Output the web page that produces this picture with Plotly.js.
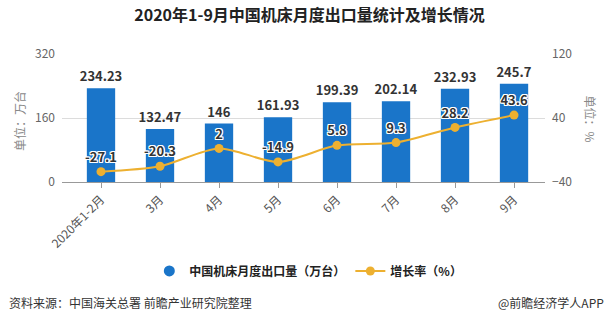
<!DOCTYPE html>
<html>
<head>
<meta charset="utf-8">
<script src="https://cdn.plot.ly/plotly-3.0.1.min.js"></script>
<style>html,body{margin:0;padding:0;background:#fff;}#chart{width:613px;height:325px;}</style>
</head>
<body>
<div id="chart"></div>
<script>
const categories = ["2020年1-2月", "3月", "4月", "5月", "6月", "7月", "8月", "9月"];
const exportVolume = [234.23, 132.47, 146, 161.93, 199.39, 202.14, 232.93, 245.7];
const growthRate = [-27.1, -20.3, 2, -14.9, 5.8, 9.3, 28.2, 43.6];
const barName = "中国机床月度出口量（万台）";
const lineName = "增长率（%）";

const FONT = '"Noto Sans CJK SC", "Noto Sans", sans-serif';
const barColor = "#1A75C9";
const lineColor = "#EDB030";
const outline = "1px 1px 0 #fff, -1px -1px 0 #fff, 1px -1px 0 #fff, -1px 1px 0 #fff, 0 1px 0 #fff, 0 -1px 0 #fff, 1px 0 0 #fff, -1px 0 0 #fff";

const traces = [
  {
    type: "bar", x: categories, y: exportVolume, name: barName,
    marker: {color: barColor}, width: 0.48,
    text: exportVolume.map(String), textposition: "outside", cliponaxis: false, constraintext: "none",
    textfont: {family: FONT, size: 13, color: "#333", weight: 700},
    showlegend: false, hoverinfo: "skip"
  },
  {
    type: "scatter", mode: "markers", x: [null], y: [null], name: barName,
    marker: {color: barColor, size: 11, symbol: "circle"}, showlegend: true
  },
  {
    type: "scatter", mode: "lines+markers+text", x: categories, y: growthRate, yaxis: "y2",
    name: lineName, line: {color: lineColor, width: 2, shape: "spline", smoothing: 0.8},
    marker: {color: lineColor, size: 9},
    text: growthRate.map(String), textposition: "top center", cliponaxis: false,
    textfont: {family: FONT, size: 13, color: "#333", weight: 700, shadow: outline}
  }
];

const layout = {
  width: 613, height: 325,
  margin: {l: 62, r: 68, t: 54, b: 143},
  paper_bgcolor: "#fff", plot_bgcolor: "#fff",
  font: {family: FONT, color: "#555", size: 12},
  title: {text: "2020年1-9月中国机床月度出口量统计及增长情况", x: 0.505, xanchor: "center", y: 0.97, yanchor: "top",
          font: {family: FONT, size: 16, color: "#222", weight: 700}},
  xaxis: {
    type: "category", range: [-0.661, 7.525], tickangle: -45,
    showline: true, linecolor: "#999", linewidth: 1,
    ticks: "outside", ticklen: 5, tickcolor: "#999",
    showgrid: false, tickfont: {size: 12, color: "#555"}, fixedrange: true
  },
  yaxis: {
    range: [0, 320], tickvals: [0, 160, 320], showgrid: true, gridcolor: "#dcdcdc",
    zeroline: false, showline: false, ticks: "", tickfont: {size: 12, color: "#666"}, ticklabelstandoff: 6
  },
  yaxis2: {
    overlaying: "y", side: "right", range: [-40, 120], tickvals: [-40, 40, 120],
    showgrid: false, zeroline: false, showline: false, tickfont: {size: 12, color: "#666"}, ticklabelstandoff: 6
  },
  showlegend: true,
  legend: {orientation: "h", x: 0.51, xanchor: "center", y: -0.695, yanchor: "middle",
           font: {size: 12, color: "#222", weight: 700}, itemwidth: 30, traceorder: "normal"},
  annotations: [
    {text: "单位：万台", xref: "paper", yref: "paper", x: -0.088, y: 0.48, textangle: -90, showarrow: false,
     font: {size: 12, color: "#888"}, xanchor: "center", yanchor: "middle"},
    {text: "单位：%", xref: "paper", yref: "paper", x: 1.095, y: 0.49, textangle: 90, showarrow: false,
     font: {size: 12, color: "#888"}, xanchor: "center", yanchor: "middle"},
    {text: "资料来源：中国海关总署 前瞻产业研究院整理", xref: "paper", yref: "paper", x: -0.114, y: -0.945,
     xanchor: "left", yanchor: "middle", showarrow: false, font: {size: 12, color: "#333"}},
    {text: "@前瞻经济学人APP", xref: "paper", yref: "paper", x: 1.126, y: -0.945,
     xanchor: "right", yanchor: "middle", showarrow: false, font: {size: 12, color: "#333"}}
  ]
};

Plotly.newPlot("chart", traces, layout, {staticPlot: true, displayModeBar: false});
</script>
</body>
</html>
